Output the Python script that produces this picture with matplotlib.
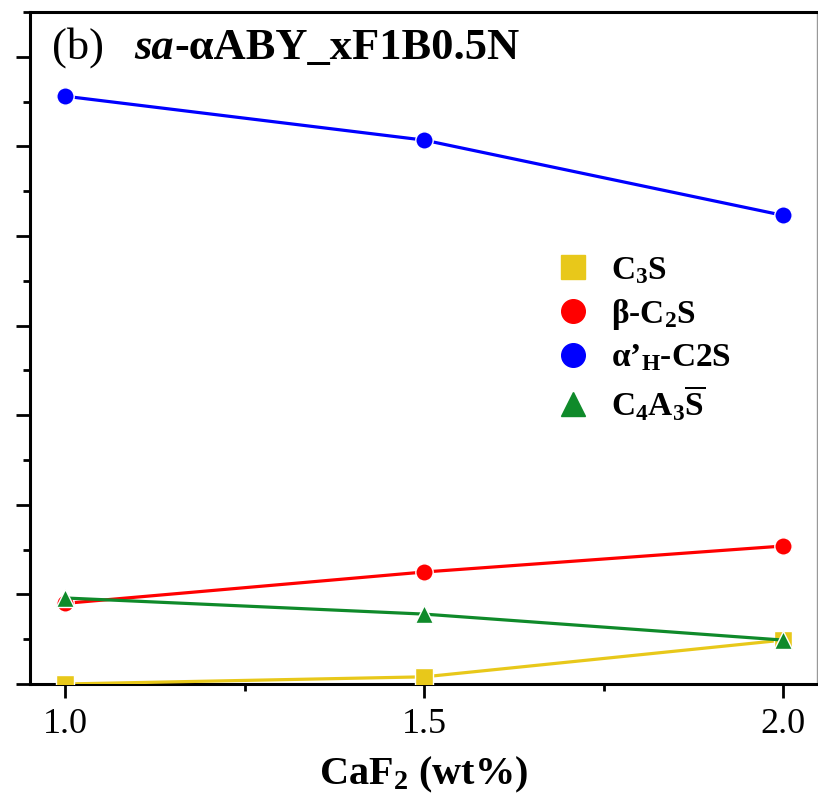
import matplotlib
matplotlib.use("Agg")
import matplotlib.pyplot as plt
from matplotlib.lines import Line2D
from matplotlib.ticker import MultipleLocator

plt.rcParams['font.family'] = ['Liberation Serif', 'DejaVu Serif']
plt.rcParams['mathtext.fontset'] = 'custom'
plt.rcParams['mathtext.rm'] = 'Liberation Serif'
plt.rcParams['mathtext.bf'] = 'Liberation Serif:bold'
plt.rcParams['mathtext.it'] = 'Liberation Serif:italic'
plt.rcParams['mathtext.default'] = 'bf'

# CaF2 dosage and phase contents
caf2 = [1.0, 1.5, 2.0]
c3s = [0.0, 0.8, 4.9]
beta_c2s = [9.0, 12.5, 15.4]
alpha_c2s = [65.6, 60.7, 52.3]
c4a3s = [9.6, 7.8, 4.9]

labels = ["C$_3$S", "β-C$_2$S", "α’$_H$-C2S", r"C$_4$A$_3\overline{S}$"]
colors = ['#E8C81A', '#FF0000', '#0000FF', '#0F8A2A']
markers = ['s', 'o', 'o', '^']
series = [c3s, beta_c2s, alpha_c2s, c4a3s]

fig = plt.figure(figsize=(8.18, 8.11), dpi=100)
ax = fig.add_axes([0.0367, 0.1566, 0.9621, 0.8286])

# draw from bottom series up so blue/red sit on top
order = [3, 0, 1, 2]
for i in order:
    ax.plot(caf2, series[i], color=colors[i], lw=2.3, marker=markers[i],
            ms=12.5, mec='white', mew=1.0, zorder=3 + i)

ax.set_xlim(0.951, 2.047)
ax.set_ylim(0, 75)
ax.xaxis.set_major_locator(MultipleLocator(0.5))
ax.xaxis.set_minor_locator(MultipleLocator(0.25))
ax.yaxis.set_major_locator(MultipleLocator(10))
ax.yaxis.set_minor_locator(MultipleLocator(5))
ax.xaxis.set_major_formatter(plt.FormatStrFormatter('%.1f'))
ax.yaxis.set_major_formatter(plt.NullFormatter())

ax.tick_params(which='major', direction='out', length=10, width=2, labelsize=26, pad=7)
ax.tick_params(which='minor', direction='out', length=5, width=2)

for side in ['left', 'bottom', 'top']:
    ax.spines[side].set_linewidth(2.2)
ax.spines['right'].set_linewidth(1.0)
ax.spines['right'].set_color('#999999')

ax.set_xlabel("CaF$_2$ (wt%)", fontsize=29, fontweight='bold', labelpad=10)

# panel title
t1 = ax.text(0.028, 0.9315, "(b)", transform=ax.transAxes, fontsize=32, va='baseline')
t2 = ax.annotate("sa", xy=(1, 0), xycoords=t1, xytext=(22, 0), textcoords='offset points',
                 fontsize=32, fontweight='bold', style='italic', va='bottom')
ax.annotate("-αABY_xF1B0.5N", xy=(1, 0), xycoords=t2, xytext=(0, 0),
            textcoords='offset points', fontsize=32, fontweight='bold', va='bottom')

handles = [Line2D([], [], ls='none', marker=markers[i], color=colors[i], ms=17)
           for i in range(4)]
ax.legend(handles, labels, loc='upper left', bbox_to_anchor=(0.631, 0.683),
          frameon=False, prop={'size': 24, 'weight': 'bold'},
          handlelength=1.0, handletextpad=0.63, labelspacing=0.32)

fig.savefig("out.png", dpi=100)
